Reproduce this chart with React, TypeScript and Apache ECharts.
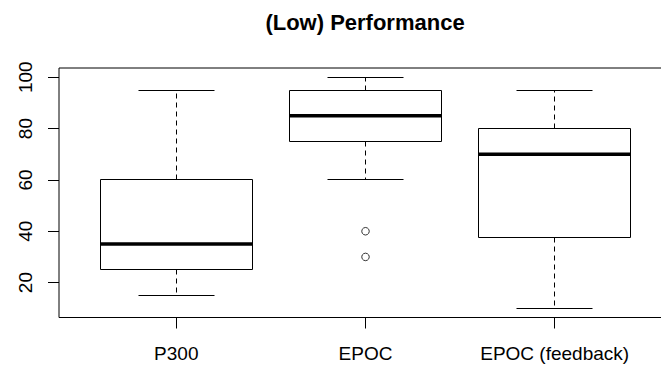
import React, { useEffect, useRef } from "react";
import * as echarts from "echarts";

const categories = ["P300", "EPOC", "EPOC (feedback)"];
const lowerWhisker = [15, 60, 10];
const firstQuartile = [25, 75, 37.5];
const medians = [35, 85, 70];
const thirdQuartile = [60, 95, 80];
const upperWhisker = [95, 100, 95];
const outlierCategory = [2, 2];
const outlierValues = [40, 30];
const yTicks = [20, 40, 60, 80, 100];
const xTicks = [1, 2, 3];

const FONT = "'Liberation Sans', Arial, Helvetica, sans-serif";

export default function App() {
  const ref = useRef<HTMLDivElement>(null);

  useEffect(() => {
    document.body.style.margin = "0";
    const chart = echarts.init(ref.current!, null, { renderer: "svg" });

    const boxData = categories.map((_, i) => [
      i + 1,
      lowerWhisker[i],
      firstQuartile[i],
      medians[i],
      thirdQuartile[i],
      upperWhisker[i],
    ]);
    const outlierData = outlierValues.map((v, i) => [outlierCategory[i], v]);

    const crisp = (v: number) => Math.round(v - 0.5) + 0.5;

    const renderItem = (params: any, api: any) => {
      const x = api.value(0);
      const lo = api.value(1);
      const q1 = api.value(2);
      const med = api.value(3);
      const q3 = api.value(4);
      const hi = api.value(5);
      const cx = crisp(api.coord([x, lo])[0]);
      const halfBox = api.size([0.4, 0])[0];
      const halfCap = api.size([0.2, 0])[0];
      const yLo = crisp(api.coord([x, lo])[1]);
      const yQ1 = crisp(api.coord([x, q1])[1]);
      const yMed = api.coord([x, med])[1];
      const yQ3 = crisp(api.coord([x, q3])[1]);
      const yHi = crisp(api.coord([x, hi])[1]);
      const left = crisp(cx - halfBox);
      const right = crisp(cx + halfBox);
      const line = { stroke: "#000", lineWidth: 1 };
      const dashed = { stroke: "#000", lineWidth: 1, lineDash: [5, 4] };
      return {
        type: "group",
        children: [
          { type: "line", shape: { x1: cx, y1: yQ3, x2: cx, y2: yHi }, style: dashed },
          { type: "line", shape: { x1: cx, y1: yQ1, x2: cx, y2: yLo }, style: dashed },
          { type: "line", shape: { x1: crisp(cx - halfCap), y1: yHi, x2: crisp(cx + halfCap), y2: yHi }, style: line },
          { type: "line", shape: { x1: crisp(cx - halfCap), y1: yLo, x2: crisp(cx + halfCap), y2: yLo }, style: line },
          {
            type: "rect",
            shape: { x: left, y: yQ3, width: right - left, height: yQ1 - yQ3 },
            style: { fill: "none", stroke: "#000", lineWidth: 1 },
          },
          { type: "line", shape: { x1: left, y1: yMed, x2: right, y2: yMed }, style: { stroke: "#000", lineWidth: 3.5 } },
        ],
      };
    };

    chart.setOption({
      animation: false,
      backgroundColor: "#fff",
      textStyle: { fontFamily: FONT },
      graphic: [
        {
          type: "text",
          x: 365,
          y: 22,
          style: {
            text: "(Low) Performance",
            font: `bold 22px ${FONT}`,
            fill: "#000",
            textAlign: "center",
            textVerticalAlign: "middle",
          },
        },
      ],
      grid: {
        left: 59,
        top: 68,
        width: 613,
        height: 249.5,
        outerBoundsMode: "none",
        containLabel: false,
        show: true,
        borderColor: "#000",
        borderWidth: 1,
        backgroundColor: "transparent",
      },
      xAxis: {
        type: "value",
        min: 0.38,
        max: 3.62,
        axisLine: { show: false },
        splitLine: { show: false },
        axisTick: {
          show: true,
          customValues: xTicks,
          length: 11,
          lineStyle: { color: "#000", width: 1 },
        },
        axisLabel: {
          customValues: xTicks,
          formatter: (v: number) => categories[Math.round(v) - 1] ?? "",
          color: "#000",
          fontSize: 19,
          fontFamily: FONT,
          margin: 26,
        },
      },
      yAxis: {
        type: "value",
        min: 6.4,
        max: 103.6,
        axisLine: { show: false },
        splitLine: { show: false },
        axisTick: {
          show: true,
          customValues: yTicks,
          length: 11,
          lineStyle: { color: "#000", width: 1 },
        },
        axisLabel: {
          customValues: yTicks,
          rotate: 90,
          color: "#000",
          fontSize: 19,
          fontFamily: FONT,
          margin: 24,
        },
      },
      series: [
        {
          type: "custom",
          renderItem,
          data: boxData,
          encode: { x: 0, y: [1, 2, 3, 4, 5] },
          silent: true,
        },
        {
          type: "scatter",
          data: outlierData,
          symbol: "circle",
          symbolSize: 7.5,
          itemStyle: { color: "rgba(0,0,0,0)", borderColor: "#000", borderWidth: 1 },
          silent: true,
        },
      ],
    });

    return () => chart.dispose();
  }, []);

  return <div ref={ref} style={{ width: 661, height: 365 }} />;
}
